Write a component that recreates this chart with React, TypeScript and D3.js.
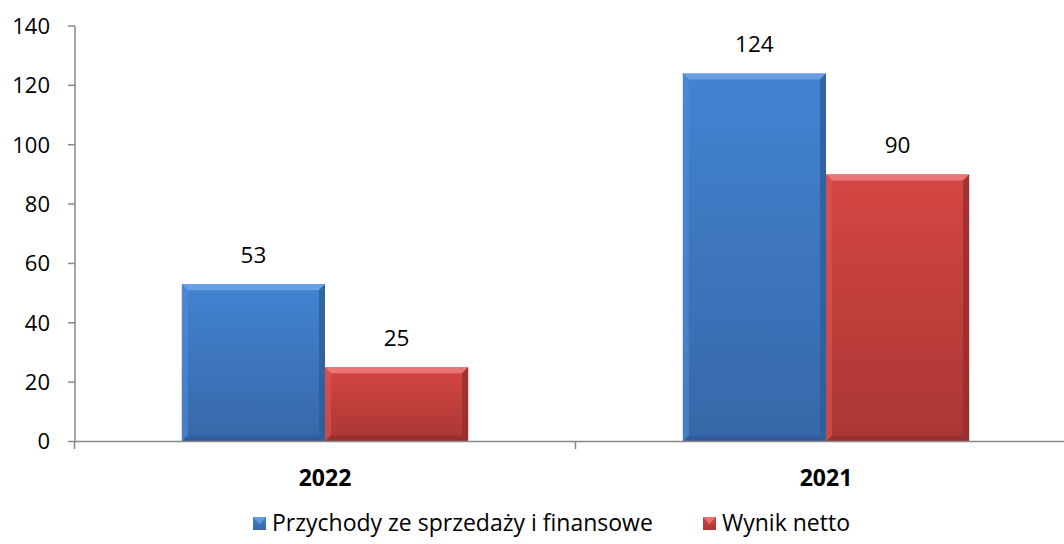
import React from "react";
import * as d3 from "d3";

const categories = ["2022", "2021"];
const seriesNames = ["Przychody ze sprzedaży i finansowe", "Wynik netto"];
const revenue = [53, 124];
const netResult = [25, 90];
const yTicks = [0, 20, 40, 60, 80, 100, 120, 140];

const W = 1064, H = 544;
const FONT = "'Open Sans', Lato, sans-serif";

const palettes = [
  { top: "#4283d2", bottom: "#3767a8", light: "#6fa3e6", lightSide: "#4f8cd8", dark: "#2b5289", darkSide: "#2f5c98" },
  { top: "#d44643", bottom: "#aa3634", light: "#ee7e7c", lightSide: "#dc5654", dark: "#82282a", darkSide: "#952e2d" },
];

export default function App() {
  const x0 = d3.scaleBand().domain(categories).range([74.5, 1076.5]).paddingInner(0).paddingOuter(0);
  const y = d3.scaleLinear().domain([0, 140]).range([441.5, 26]);
  const bw = x0.bandwidth();
  const barW = bw / 3.5;
  const x1 = d3.scaleBand().domain(["0", "1"]).range([bw / 2 - barW, bw / 2 + barW]);
  const series = [revenue, netResult];
  const bev = 6;

  return (
    <svg width={W} height={H} style={{ position: "absolute", left: 0, top: 0, background: "#fff" }} fontFamily={FONT}>
      <defs>
        {palettes.map((p, i) => (
          <linearGradient key={i} id={`g${i}`} x1="0" y1="0" x2="0" y2="1">
            <stop offset="0" stopColor={p.top} />
            <stop offset="1" stopColor={p.bottom} />
          </linearGradient>
        ))}
      </defs>
      {/* y axis */}
      <line x1={75} x2={75} y1={26} y2={441.5} stroke="#888" strokeWidth={1.5} />
      {yTicks.map((t) => (
        <g key={t}>
          <line x1={68} x2={75} y1={y(t)} y2={y(t)} stroke="#888" strokeWidth={1.5} />
          <text x={50} y={y(t)} dy="0.36em" textAnchor="end" fontSize={22} fill="#000">{t}</text>
        </g>
      ))}
      {/* bars */}
      {categories.map((c, ci) =>
        series.map((s, si) => {
          const bx = (x0(c) as number) + (x1(String(si)) as number);
          const by = y(s[ci]);
          const bb = y(0);
          const p = palettes[si];
          const w = x1.bandwidth();
          return (
            <g key={c + si}>
              <rect x={bx} y={by} width={w} height={bb - by} fill={`url(#g${si})`} />
              <polygon points={`${bx},${by} ${bx + w},${by} ${bx + w - bev},${by + bev} ${bx + bev},${by + bev}`} fill={p.light} opacity={0.85} />
              <polygon points={`${bx},${by} ${bx + bev},${by + bev} ${bx + bev},${bb - bev} ${bx},${bb}`} fill={p.lightSide} opacity={0.6} />
              <polygon points={`${bx + w},${by} ${bx + w - bev},${by + bev} ${bx + w - bev},${bb - bev} ${bx + w},${bb}`} fill={p.darkSide} opacity={0.8} />
              <polygon points={`${bx},${bb} ${bx + bev},${bb - bev} ${bx + w - bev},${bb - bev} ${bx + w},${bb}`} fill={p.dark} opacity={0.5} />
              <text x={bx + w / 2} y={by - 21} textAnchor="middle" fontSize={22.5} fill="#000">{s[ci]}</text>
            </g>
          );
        })
      )}
      {/* x axis */}
      <line x1={75} x2={1076} y1={441.5} y2={441.5} stroke="#888" strokeWidth={1.5} />
      {[0, 1, 2].map((i) => {
        const xv = 74.5 + i * bw;
        return <line key={i} x1={xv} x2={xv} y1={441.5} y2={449} stroke="#888" strokeWidth={1.5} />;
      })}
      {categories.map((c) => (
        <text key={c} x={(x0(c) as number) + bw / 2} y={486} textAnchor="middle" fontSize={23} fontWeight="bold" fill="#000">{c}</text>
      ))}
      {/* legend */}
      {seriesNames.map((n, i) => {
        const lx = i === 0 ? 253 : 703;
        const p = palettes[i];
        return (
          <g key={n}>
            <rect x={lx} y={517} width={13} height={13} fill={`url(#g${i})`} />
            <polygon points={`${lx},517 ${lx + 13},517 ${lx + 6.5},524`} fill={p.light} opacity={0.8} />
            <text x={lx + 19} y={531} fontSize={23} fill="#000">{n}</text>
          </g>
        );
      })}
    </svg>
  );
}
